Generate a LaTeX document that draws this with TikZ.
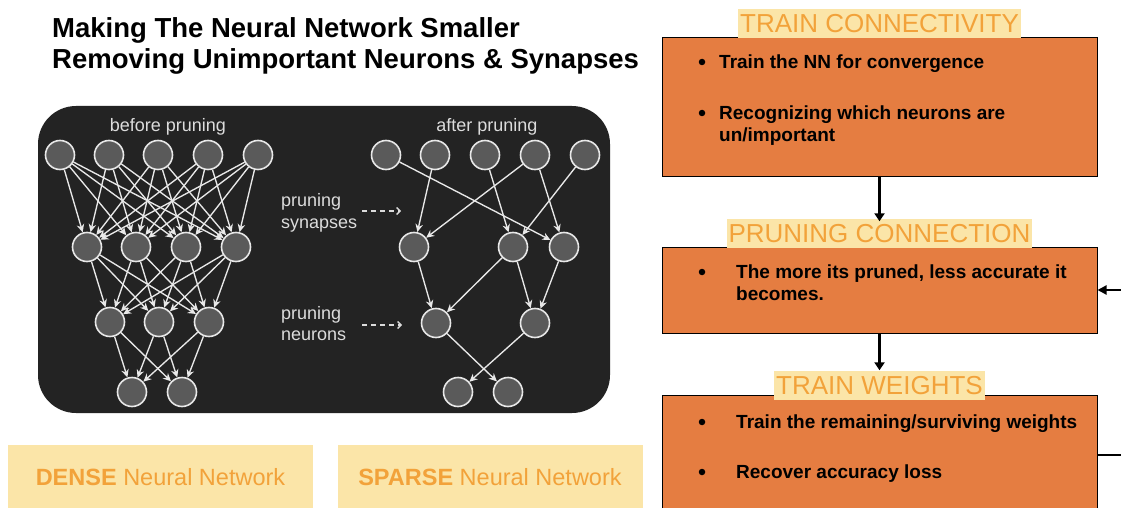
\documentclass[tikz,border=0pt]{standalone}
\usepackage{fontspec}
\setmainfont{Liberation Sans}
\usetikzlibrary{arrows.meta,calc}
\definecolor{panelbg}{HTML}{232323}
\definecolor{neufill}{HTML}{5A5A5A}
\definecolor{neuline}{HTML}{E8E8E8}
\definecolor{boxorange}{RGB}{229,125,65}
\definecolor{ttlorange}{RGB}{242,162,58}
\definecolor{hlyellow}{RGB}{251,229,168}
\definecolor{lblgray}{HTML}{DCDCDC}
\begin{document}
\begin{tikzpicture}[x=1pt,y=-1pt,
  neuron/.style={circle,fill=neufill,draw=neuline,line width=1.6pt,minimum size=29pt,inner sep=0pt},
  syn/.style={draw=neuline,line width=1.35pt,-{Stealth[length=8pt,width=7.5pt]}},
  lbl/.style={text=lblgray,font=\fontsize{18}{18}\selectfont,inner sep=0pt,text height=12.9pt,text depth=0pt},
  dasharr/.style={draw=lblgray,line width=1.3pt,dash pattern=on 5pt off 4pt,-{Straight Barb[length=3.5pt,width=7pt]}},
  fbox/.style={rectangle,draw=black,line width=1pt,fill=boxorange,minimum width=435pt,inner sep=0pt},
  ttl/.style={fill=hlyellow,text=ttlorange,font=\fontsize{26}{26}\selectfont,inner xsep=2pt,inner ysep=0pt,minimum height=29pt,text height=18.6pt,text depth=0pt},
  flowarr/.style={draw=black,line width=2.2pt,-{Triangle[length=8pt,width=10pt]}},
  bul/.style={circle,fill=black,inner sep=0pt,minimum size=6.5pt},
  btxt/.style={anchor=west,inner sep=0pt,font=\bfseries\fontsize{19}{22}\selectfont,text height=13.6pt,text depth=0pt},
  nnbox/.style={fill=hlyellow,minimum width=305pt,minimum height=65pt,inner sep=0pt,text=ttlorange,font=\fontsize{23.5}{23.5}\selectfont,text height=16.8pt,text depth=0pt},
  headline/.style={anchor=west,inner sep=0pt,font=\bfseries\fontsize{27.5}{30}\selectfont,text height=19.7pt,text depth=0pt}
]
\useasboundingbox (0,0) rectangle (1121,508);
\clip (0,0) rectangle (1121,508);

% headline
\node[headline] (h1) at (52,28) {Making The Neural Network Smaller};
\node[headline] (h2) at (52,59) {Removing Unimportant Neurons \& Synapses};

% dark panel
\fill[panelbg,rounded corners=38pt] (38,106) rectangle (610,413);

\node[lbl] (bp) at (168,125) {before pruning};
\node[lbl] (ap) at (487,125) {after pruning};
\node[lbl,anchor=west] (ps1) at (281,200) {pruning};
\node[lbl,anchor=west] (ps2) at (281,222) {synapses};
\node[lbl,anchor=west] (pn1) at (281,313) {pruning};
\node[lbl,anchor=west] (pn2) at (281,334) {neurons};
\coordinate (ds1) at (362,211);
\coordinate (de1) at (401,211);
\coordinate (ds2) at (362,325);
\coordinate (de2) at (402,325);
\draw[dasharr] (ds1) -- (de1);
\draw[dasharr] (ds2) -- (de2);

% dense network
\foreach \i/\x in {1/60,2/109,3/158,4/208,5/258} \node[neuron] (a\i) at (\x,155) {};
\foreach \i/\x in {1/87,2/136,3/186,4/236} \node[neuron] (b\i) at (\x,247) {};
\foreach \i/\x in {1/110,2/159,3/209} \node[neuron] (c\i) at (\x,322) {};
\foreach \i/\x in {1/132,2/182} \node[neuron] (d\i) at (\x,392) {};
\foreach \i in {1,...,5} \foreach \j in {1,...,4} \draw[syn] (a\i) -- (b\j);
\foreach \i in {1,...,4} \foreach \j in {1,...,3} \draw[syn] (b\i) -- (c\j);
\foreach \i in {1,...,3} \foreach \j in {1,2} \draw[syn] (c\i) -- (d\j);

% sparse network
\foreach \i/\x in {1/386,2/435,3/485,4/535,5/585} \node[neuron] (p\i) at (\x,155) {};
\foreach \i/\x in {1/414,2/513,3/564} \node[neuron] (q\i) at (\x,247) {};
\foreach \i/\x in {1/436,2/535} \node[neuron] (r\i) at (\x,323) {};
\foreach \i/\x in {1/458,2/508} \node[neuron] (s\i) at (\x,392) {};
\draw[syn] (p1) -- (q3);
\draw[syn] (p2) -- (q1);
\draw[syn] (p3) -- (q2);
\draw[syn] (p4) -- (q1);
\draw[syn] (p4) -- (q3);
\draw[syn] (p5) -- (q2);
\draw[syn] (q1) -- (r1);
\draw[syn] (q2) -- (r1);
\draw[syn] (q2) -- (r2);
\draw[syn] (q3) -- (r2);
\draw[syn] (r1) -- (s2);
\draw[syn] (r2) -- (s1);

% bottom labels
\node[nnbox] (dense) at (160.5,477) {\textbf{DENSE} Neural Network};
\node[nnbox] (sparse) at (490,477) {\textbf{SPARSE} Neural Network};

% flowchart
\node[fbox,minimum height=138pt] (f1) at (879.5,107) {};
\node[fbox,minimum height=86pt] (f2) at (879.5,290) {};
\node[fbox,minimum height=120pt] (f3) at (879.5,455) {};
\node[ttl] (t1) at (879.5,23.5) {TRAIN CONNECTIVITY};
\node[ttl] (t2) at (879.5,233) {PRUNING CONNECTION};
\node[ttl] (t3) at (879.5,385) {TRAIN WEIGHTS};

\draw[flowarr] (f1.south) -- ($(t2.north)+(0,3)$);
\draw[flowarr] (f2.south) -- (t3.north);
\draw[draw=black,line width=2pt,-{Triangle[length=9pt,width=9pt]}] (f3.east) -- ++(40,0) |- (f2.east);

\node[bul] (u1) at (702,62) {};
\node[bul] (u2) at (702,113) {};
\node[btxt] (x1) at (719,62) {Train the NN for convergence};
\node[btxt] (x2) at (719,113) {Recognizing which neurons are};
\node[btxt] (x3) at (719,135) {un/important};

\node[bul] (u3) at (702,272) {};
\node[btxt] (x4) at (736,272) {The more its pruned, less accurate it};
\node[btxt] (x5) at (736,294) {becomes.};

\node[bul] (u4) at (702,422) {};
\node[bul] (u5) at (702,472) {};
\node[btxt] (x6) at (736,422) {Train the remaining/surviving weights};
\node[btxt] (x7) at (736,472) {Recover accuracy loss};
\end{tikzpicture}
\end{document}
